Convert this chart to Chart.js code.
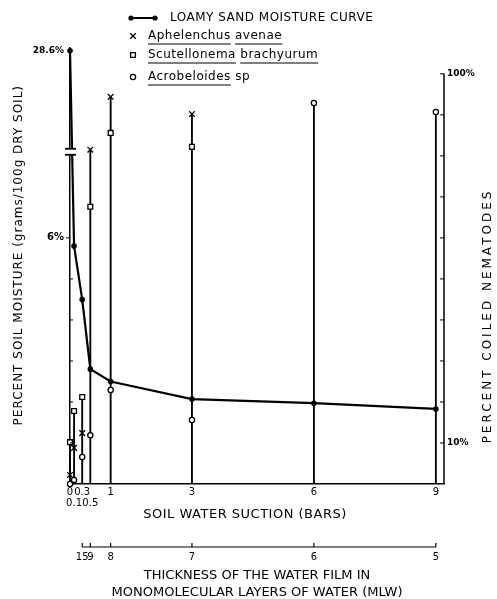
<!DOCTYPE html>
<html><head><meta charset="utf-8">
<script src="https://cdn.jsdelivr.net/npm/chart.js@4.4.1/dist/chart.umd.min.js"></script>
<style>html,body{margin:0;padding:0;background:#fff;}</style>
</head><body>
<canvas id="c" width="497" height="599"></canvas>
<script>
// ---- data ----
const suction = [0, 0.1, 0.3, 0.5, 1, 3, 6, 9];
const moisture = [28.6, 5.8, 4.5, 2.8, 2.5, 2.07, 1.97, 1.83];
const aphelenchus = [2.2, 8.8, 12.4, 81.5, 94.4, 90.2, null, null];
const scutellonema = [10.2, 17.8, 21.2, 67.6, 85.6, 82.2, null, null];
const acrobeloides = [0, 1, 6.6, 11.9, 22.9, 15.6, 92.9, 90.7];
const suctionTicks = [0, 0.1, 0.3, 0.5, 1, 3, 6, 9];
const suctionTicksLow = [0.1, 0.5];
const moistureTicks = [0, 1, 2, 3, 4, 5, 6, 28.6];
const moistureLabelled = [6, 28.6];
const coiledTicks = [10, 20, 30, 40, 50, 60, 70, 80, 90, 100];
const coiledLabelled = [10, 100];
const mlwSuction = [0.3, 0.5, 1, 3, 6, 9];
const mlwLabels = ['15', '9', '8', '7', '6', '5'];
const seriesNames = ['LOAMY SAND MOISTURE CURVE', 'Aphelenchus avenae', 'Scutellonema brachyurum', 'Acrobeloides sp'];
const underlinedWords = [[], ['Aphelenchus', 'avenae'], ['Scutellonema', 'brachyurum'], ['Acrobeloides']];
const yTitle = 'PERCENT SOIL MOISTURE (grams/100g DRY SOIL)';
const yRTitle = 'PERCENT COILED NEMATODES';
const xTitle = 'SOIL WATER SUCTION (BARS)';
const x2Title = ['THICKNESS OF THE WATER FILM IN', 'MONOMOLECULAR LAYERS OF WATER (MLW)'];

const F = "'DejaVu Sans', 'Liberation Sans', sans-serif";

// ---- broken linear scale (compresses values above the break) ----
class BrokenLinearScale extends Chart.LinearScale {
  _map(v) {
    const b = this.options.breakAt ?? 8.1, s = this.options.squeeze ?? 0.12;
    return v > b ? b + (v - b) * s : v;
  }
  getPixelForValue(value) { return super.getPixelForValue(this._map(value)); }
  getValueForPixel(pixel) {
    const v = super.getValueForPixel(pixel);
    const b = this.options.breakAt ?? 8.1, s = this.options.squeeze ?? 0.12;
    return v > b ? b + (v - b) / s : v;
  }
}
BrokenLinearScale.id = 'brokenLinear';
BrokenLinearScale.defaults = Chart.LinearScale.defaults;
Chart.register(BrokenLinearScale);

const pts = (arr) => suction.map((x, i) => ({x, y: arr[i]})).filter(p => p.y !== null);
const dropTops = suction.map((x, i) => ({x, y: [0, Math.max(...[aphelenchus[i], scutellonema[i], acrobeloides[i]].filter(v => v !== null))]}));

const markerStyles = [null,
  {pointStyle: 'crossRot', radius: 4},
  {pointStyle: 'rect', radius: 3.4},
  {pointStyle: 'circle', radius: 2.6}];

const decor = {
  id: 'decor',
  afterDraw(chart) {
    const ctx = chart.ctx;
    const y = chart.scales.y, yR = chart.scales.yR, x2 = chart.scales.x2;
    ctx.save();
    ctx.strokeStyle = '#000'; ctx.fillStyle = '#000'; ctx.lineWidth = 1.5;
    // right axis line from 0% to 100%
    ctx.beginPath();
    ctx.moveTo(yR.left, yR.getPixelForValue(0));
    ctx.lineTo(yR.left, yR.getPixelForValue(coiledTicks[coiledTicks.length - 1]));
    ctx.stroke();
    ctx.lineWidth = 1;
    // left axis ticks
    moistureTicks.forEach(v => {
      if (v <= 0 || v > 10) return;
      const py = y.getPixelForValue(v);
      ctx.beginPath();
      if (moistureLabelled.includes(v)) { ctx.moveTo(y.right - 4, py); ctx.lineTo(y.right, py); }
      else { ctx.moveTo(y.right, py); ctx.lineTo(y.right + 3, py); }
      ctx.stroke();
    });
    // right axis inward ticks
    coiledTicks.forEach(v => {
      const py = yR.getPixelForValue(v);
      ctx.beginPath(); ctx.moveTo(yR.left - 4, py); ctx.lineTo(yR.left, py); ctx.stroke();
    });
    // axis break marks
    const pb = y.getPixelForValue(y.options.breakAt);
    ctx.fillStyle = '#fff';
    ctx.fillRect(y.right - 5, pb - 3, 11, 6);
    ctx.fillStyle = '#000'; ctx.lineWidth = 1.8;
    [pb - 3, pb + 3].forEach(py => { ctx.beginPath(); ctx.moveTo(y.right - 5, py); ctx.lineTo(y.right + 6, py); ctx.stroke(); });
    // MLW axis line with upward ticks
    ctx.lineWidth = 1.2;
    const ly = x2.top;
    ctx.beginPath();
    ctx.moveTo(x2.getPixelForValue(mlwSuction[0]), ly);
    ctx.lineTo(x2.getPixelForValue(mlwSuction[mlwSuction.length - 1]), ly);
    ctx.stroke();
    mlwSuction.forEach(v => { const px = x2.getPixelForValue(v); ctx.beginPath(); ctx.moveTo(px, ly); ctx.lineTo(px, ly - 4); ctx.stroke(); });

    // titles
    ctx.fillStyle = '#000';
    ctx.textBaseline = 'middle';
    ctx.font = '12px ' + F;
    ctx.letterSpacing = '1px';
    ctx.save(); ctx.translate(19, 85); ctx.rotate(-Math.PI / 2); ctx.textAlign = 'right'; ctx.fillText(yTitle, 0, 0); ctx.restore();
    ctx.letterSpacing = '3px';
    ctx.save(); ctx.translate(488, 316); ctx.rotate(-Math.PI / 2); ctx.textAlign = 'center'; ctx.fillText(yRTitle, 0, 0); ctx.restore();
    ctx.font = '13px ' + F;
    ctx.letterSpacing = '0.5px';
    ctx.textAlign = 'center';
    ctx.fillText(xTitle, 245, 515);

    // legend
    ctx.letterSpacing = '0.5px';
    ctx.font = '12px ' + F;
    ctx.textAlign = 'left';
    ctx.lineWidth = 2;
    ctx.beginPath(); ctx.moveTo(131, 18); ctx.lineTo(155, 18); ctx.stroke();
    [131, 155].forEach(px => { ctx.beginPath(); ctx.arc(px, 18, 2.6, 0, Math.PI * 2); ctx.fill(); });
    ctx.fillText(seriesNames[0], 170, 18);
    const ys = [36, 55, 77];
    for (let k = 1; k <= 3; k++) {
      const ly2 = ys[k - 1];
      ctx.fillStyle = '#fff'; ctx.strokeStyle = '#000'; ctx.lineWidth = 1.3;
      Chart.helpers.drawPoint(ctx, {pointStyle: markerStyles[k].pointStyle, radius: markerStyles[k].radius, rotation: 0, borderWidth: 1.3}, 133, ly2);
      ctx.fillStyle = '#000';
      ctx.fillText(seriesNames[k], 148, ly2);
      ctx.lineWidth = 1;
      underlinedWords[k].forEach(w => {
        const idx = seriesNames[k].indexOf(w);
        const x0 = 148 + ctx.measureText(seriesNames[k].slice(0, idx)).width;
        const ww = ctx.measureText(w).width;
        ctx.beginPath(); ctx.moveTo(x0, ly2 + 8); ctx.lineTo(x0 + ww, ly2 + 8); ctx.stroke();
      });
    }
    ctx.restore();
  }
};

new Chart(document.getElementById('c'), {
  type: 'line',
  data: {
    datasets: [
      {type: 'line', label: seriesNames[0], data: pts(moisture), xAxisID: 'x', yAxisID: 'y',
       borderColor: '#000', borderWidth: 2.2, pointRadius: 2.8, pointBorderWidth: 0, pointBackgroundColor: '#000', pointBorderColor: '#000',
       tension: 0, clip: false, order: 2},
      {type: 'scatter', label: seriesNames[1], data: pts(aphelenchus), xAxisID: 'x', yAxisID: 'yR',
       pointStyle: markerStyles[1].pointStyle, pointRadius: markerStyles[1].radius, borderColor: '#000', backgroundColor: '#fff', borderWidth: 1.3, showLine: false, clip: false, order: 1},
      {type: 'scatter', label: seriesNames[2], data: pts(scutellonema), xAxisID: 'x', yAxisID: 'yR',
       pointStyle: markerStyles[2].pointStyle, pointRadius: markerStyles[2].radius, borderColor: '#000', backgroundColor: '#fff', borderWidth: 1.3, showLine: false, clip: false, order: 1},
      {type: 'scatter', label: seriesNames[3], data: pts(acrobeloides), xAxisID: 'x', yAxisID: 'yR',
       pointStyle: markerStyles[3].pointStyle, pointRadius: markerStyles[3].radius, borderColor: '#000', backgroundColor: '#fff', borderWidth: 1.3, showLine: false, clip: false, order: 1},
      {type: 'bar', label: 'drop', data: dropTops, xAxisID: 'x', yAxisID: 'yR',
       backgroundColor: '#000', barThickness: 1.2, grouped: false, order: 3}
    ]
  },
  options: {
    responsive: false, animation: false, devicePixelRatio: 1,
    layout: {padding: {top: 48, left: 0, right: 0, bottom: 0}},
    plugins: {legend: {display: false}, tooltip: {enabled: false}},
    scales: {
      x: {type: 'linear', position: 'bottom', weight: 0, min: 0, max: 9.2, offset: false,
        afterBuildTicks: s => { s.ticks = suctionTicks.map(v => ({value: v})); },
        afterFit: s => { s.height = 63; },
        grid: {display: false, drawTicks: false}, border: {display: true, color: '#000', width: 1.5},
        title: {display: false, text: xTitle},
        ticks: {autoSkip: false, maxRotation: 0, padding: 3, color: '#000', font: {size: 10, family: F, lineHeight: 1.1},
          callback: v => suctionTicksLow.includes(v) ? ['', String(v)] : String(v)}},
      x2: {type: 'linear', position: 'bottom', weight: 1, min: 0, max: 9.2, offset: false,
        afterBuildTicks: s => { s.ticks = mlwSuction.map(v => ({value: v})); },
        afterFit: s => { s.height = 52; },
        grid: {display: false, drawTicks: false}, border: {display: false},
        ticks: {autoSkip: false, maxRotation: 0, padding: 4, color: '#000', font: {size: 10, family: F},
          callback: (v, i) => mlwLabels[i]},
        title: {display: true, text: x2Title, color: '#000', font: {size: 13, family: F, lineHeight: '17px'}, padding: {top: 0, bottom: -2}}},
      y: {type: 'brokenLinear', position: 'left', min: 0, max: 10.63, breakAt: 8.1, squeeze: 0.12,
        afterBuildTicks: s => { s.ticks = moistureTicks.map(v => ({value: v})); },
        afterFit: s => { s.width = 70; },
        grid: {display: false, drawTicks: false}, border: {display: true, color: '#000', width: 1.5},
        title: {display: false, text: yTitle},
        ticks: {autoSkip: false, padding: 6, color: '#000',
          font: c => ({size: (c.tick && c.tick.value > 10) ? 9 : 10, weight: 'bold', family: F}),
          callback: v => moistureLabelled.includes(v) ? v + '%' : ''}},
      yR: {type: 'linear', position: 'right', min: 0, max: 106.3,
        afterBuildTicks: s => { s.ticks = coiledTicks.map(v => ({value: v})); },
        afterFit: s => { s.width = 53; },
        grid: {display: false, drawTicks: false}, border: {display: false},
        title: {display: false, text: yRTitle},
        ticks: {autoSkip: false, padding: 3, color: '#000', font: {size: 9, weight: 'bold', family: F},
          callback: v => coiledLabelled.includes(v) ? v + '%' : ''}}
    }
  },
  plugins: [decor]
});
</script>
</body></html>
